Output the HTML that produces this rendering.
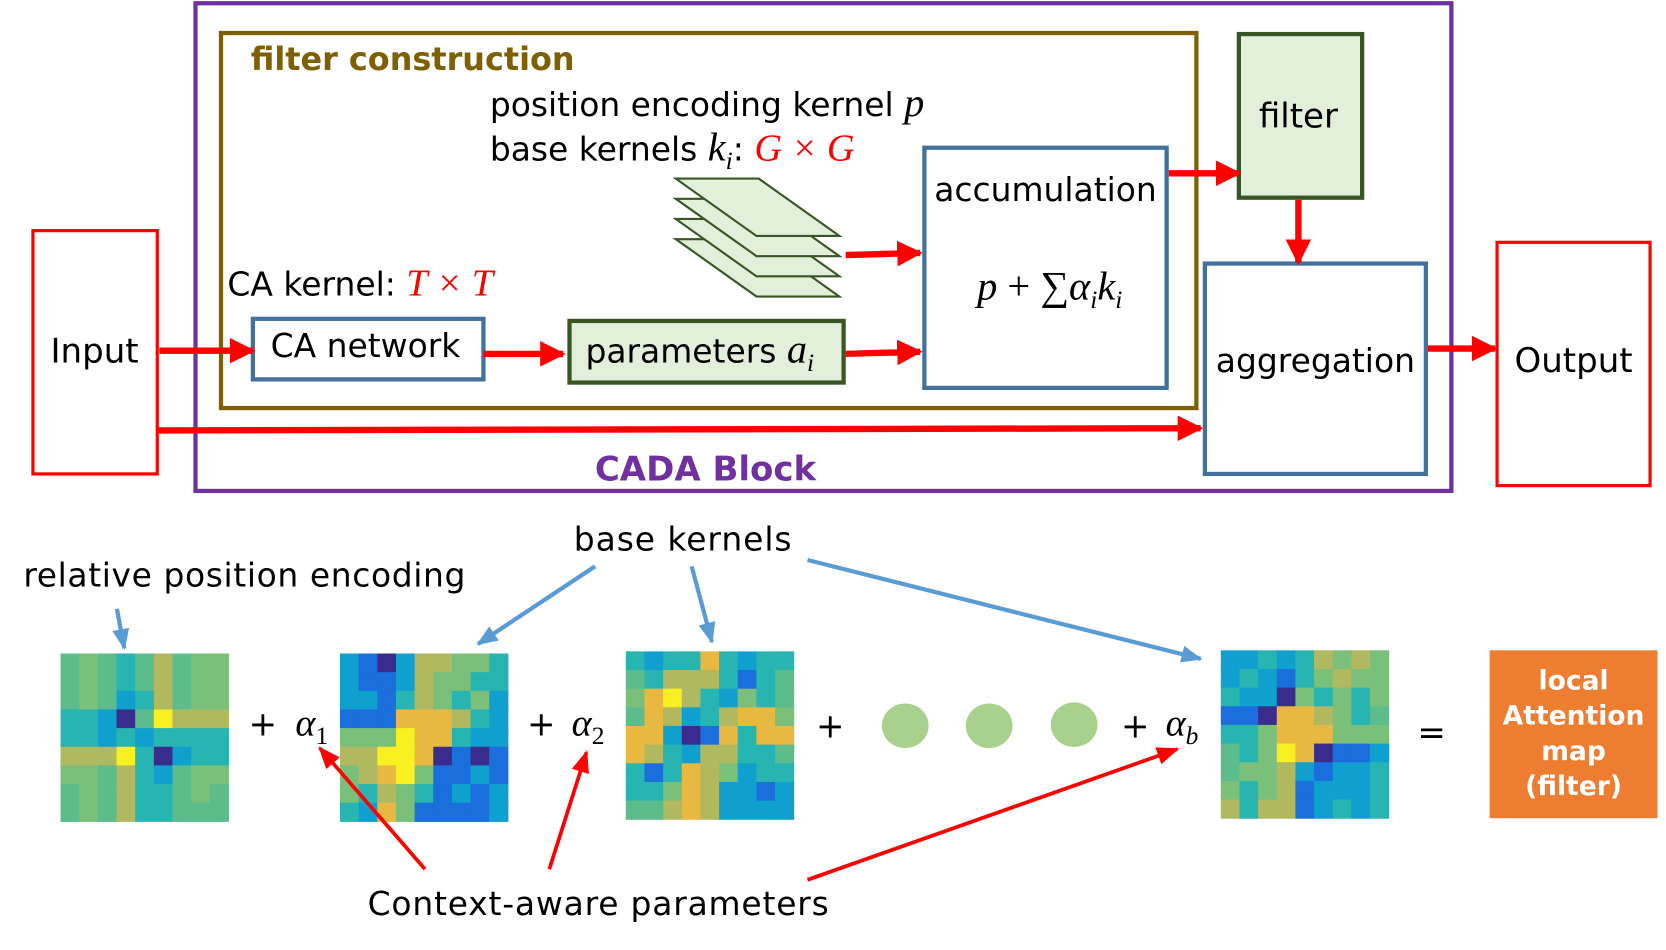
<!DOCTYPE html>
<html><head><meta charset="utf-8"><style>
html,body{margin:0;padding:0;background:#fff;overflow:hidden}
svg{display:block}
text{font-family:"DejaVu Sans","Liberation Sans",sans-serif}
.m{font-family:"Liberation Serif","DejaVu Serif",serif;font-style:italic}
</style></head><body>
<svg width="1666" height="950" viewBox="0 0 1568 894" xmlns="http://www.w3.org/2000/svg">
<defs>
<marker id="ra" viewBox="0 0 10 10" refX="9" refY="5" markerWidth="4" markerHeight="4" orient="auto" markerUnits="strokeWidth"><path d="M0,0L10,5L0,10z" fill="#f00"/></marker>
<marker id="rt" viewBox="0 0 10 10" refX="9" refY="5" markerWidth="6" markerHeight="6" orient="auto" markerUnits="strokeWidth"><path d="M0,1L10,5L0,9z" fill="#f00"/></marker>
<marker id="ba" viewBox="0 0 10 10" refX="9" refY="5" markerWidth="5" markerHeight="5" orient="auto" markerUnits="strokeWidth"><path d="M0,1L10,5L0,9z" fill="#5b9bd5"/></marker>
</defs>
<g id="hm"></g>
<!-- boxes -->
<rect x="184" y="3" width="1182" height="459" fill="none" stroke="#7030a0" stroke-width="4"/>
<rect x="208" y="31" width="918" height="353" fill="none" stroke="#7f6000" stroke-width="4"/>
<text x="236" y="66" font-size="30" font-weight="bold" fill="#7f6000">filter construction</text>
<rect x="31" y="217" width="117" height="229" fill="none" stroke="#f00" stroke-width="3"/>
<text x="89" y="341" font-size="32" text-anchor="middle">Input</text>
<rect x="1409" y="228" width="144" height="229" fill="none" stroke="#f00" stroke-width="3"/>
<text x="1481" y="350" font-size="32" text-anchor="middle">Output</text>
<rect x="1166" y="32" width="116" height="154" fill="#e2efda" stroke="#375623" stroke-width="4"/>
<text x="1222" y="120" font-size="32" text-anchor="middle">filter</text>
<rect x="1134" y="248" width="208" height="198" fill="none" stroke="#41719c" stroke-width="4"/>
<text x="1238" y="350" font-size="31" text-anchor="middle">aggregation</text>
<rect x="870" y="139" width="228" height="226" fill="none" stroke="#41719c" stroke-width="4"/>
<text x="984" y="189" font-size="31" text-anchor="middle">accumulation</text>
<text x="988" y="282" font-size="38" text-anchor="middle" class="m">p <tspan font-style="normal">+ ∑</tspan>α<tspan font-size="24" dy="8">i</tspan><tspan dy="-8">k</tspan><tspan font-size="24" dy="8">i</tspan></text>
<rect x="238" y="300" width="217" height="57" fill="none" stroke="#41719c" stroke-width="4"/>
<text x="344" y="336" font-size="31" text-anchor="middle">CA network</text>
<rect x="536" y="302" width="258" height="58" fill="#e2efda" stroke="#375623" stroke-width="4"/>
<text x="551" y="341" font-size="31">parameters <tspan class="m" font-size="38">a</tspan><tspan class="m" font-size="24" dy="8">i</tspan></text>
<text x="214" y="278" font-size="31">CA kernel:  <tspan class="m" fill="#f00" font-size="36">T × T</tspan></text>
<text x="461" y="109" font-size="31">position encoding kernel <tspan class="m" font-size="38">p</tspan></text>
<text x="461" y="151" font-size="31">base kernels <tspan class="m" font-size="38">k</tspan><tspan class="m" font-size="24" dy="8">i</tspan><tspan dy="-8">:   </tspan><tspan class="m" fill="#f00" font-size="36">G × G</tspan></text>
<!-- layers -->
<g fill="#e2efda" stroke="#375623" stroke-width="2">
<path d="M636,225L714,225L790,279L712,279z"/>
<path d="M636,206L714,206L790,260L712,260z"/>
<path d="M636,187L714,187L790,241L712,241z"/>
<path d="M636,168L714,168L790,222L712,222z"/>
</g>
<text x="664" y="452" font-size="32" font-weight="bold" fill="#7030a0" text-anchor="middle">CADA Block</text>
<!-- red thick arrows -->
<g stroke="#f00" stroke-width="6" fill="none" marker-end="url(#ra)">
<line x1="150" y1="330" x2="238" y2="330"/>
<line x1="455" y1="333" x2="530" y2="333"/>
<line x1="796" y1="333" x2="866" y2="331"/>
<line x1="796" y1="240" x2="866" y2="238"/>
<line x1="1100" y1="163" x2="1166" y2="163"/>
<line x1="1222" y1="188" x2="1222" y2="247"/>
<line x1="1344" y1="328" x2="1407" y2="328"/>
<line x1="148" y1="405" x2="1130" y2="403"/>
</g>
<!-- bottom texts -->
<text x="22" y="552" font-size="31" textLength="416" lengthAdjust="spacing">relative position encoding</text>
<text x="540" y="518" font-size="31" textLength="205" lengthAdjust="spacing">base kernels</text>
<text x="346" y="861" font-size="31" textLength="434" lengthAdjust="spacing">Context-aware parameters</text>
<g stroke="#5b9bd5" stroke-width="4" fill="none" marker-end="url(#ba)">
<line x1="110" y1="573" x2="117" y2="610"/>
<line x1="560" y1="533" x2="450" y2="606"/>
<line x1="651" y1="533" x2="670" y2="604"/>
<line x1="760" y1="527" x2="1130" y2="620"/>
</g>
<g stroke="#f00" stroke-width="3.5" fill="none" marker-end="url(#rt)">
<line x1="400" y1="818" x2="301" y2="704"/>
<line x1="517" y1="818" x2="552" y2="708"/>
<line x1="760" y1="828" x2="1108" y2="705"/>
</g>
<g font-size="32">
<text x="234" y="692">+</text><text x="278" y="692" class="m" font-size="36">α<tspan font-size="24" dy="8" font-style="normal">1</tspan></text>
<text x="496" y="692">+</text><text x="538" y="692" class="m" font-size="36">α<tspan font-size="24" dy="8" font-style="normal">2</tspan></text>
<text x="768" y="694">+</text>
<text x="1055" y="694">+</text><text x="1097" y="692" class="m" font-size="36">α<tspan font-size="24" dy="8">b</tspan></text>
<text x="1334" y="700">=</text>
</g>
<g fill="#a9d18e"><ellipse cx="852" cy="683" rx="22" ry="21"/><ellipse cx="931" cy="683" rx="22" ry="21"/><ellipse cx="1011" cy="682" rx="22" ry="21"/></g>
<rect x="1402" y="612" width="158" height="158" fill="#ed7d31"/>
<g font-size="25" font-weight="bold" fill="#fff" text-anchor="middle">
<text x="1481" y="649">local</text><text x="1481" y="682">Attention</text><text x="1481" y="715">map</text><text x="1481" y="748">(filter)</text>
</g>
</svg>
<script>
var P={d:"#3a2c8c",b:"#1a6fdc",c:"#10a0d0",t:"#28b4b0",g:"#5cbc8c",G:"#7ac07a",o:"#b0b860",Y:"#e8b840",y:"#f8f020"};
var H=[
[57,615,["gGgtgogGG","gGgtgogGG","gGgctogGG","ttcdgyooo","ttctctttt","oooytdctt","GGgotcgGG","gGgottgGg","gGgottggg"]],
[320,615,["cbdcooGGt","cbbcoGGtt","ccbtoGtGc","bbbYYYotc","GGGyYYtcc","ooyyYdbdb","GoYyGbbcb","GtoGtbcbc","tcYGbbbbc"]],
[589,613,["tcttYtctt","gtoootbtg","GYyotcGtg","gYoctoYYG","YYcdbYtYY","Yotcoottg","tbtYoGctt","ttGYoccbc","ggoYocccc"]],
[1149,612,["cctctoGoG","ctcbtGoGG","tccdGtGtG","bbdYYoGtg","ttGYYYGGG","gtGyYdbbc","gGGocbcct","GtGobccct","otoobctct"]]];
var s="",w=158/9;
H.forEach(function(h){h[2].forEach(function(r,i){for(var j=0;j<9;j++){s+='<rect x="'+(h[0]+j*w)+'" y="'+(h[1]+i*w)+'" width="'+(w+0.5)+'" height="'+(w+0.5)+'" fill="'+P[r[j]]+'"/>';}});});
document.getElementById("hm").innerHTML=s;
</script>
</body></html>
